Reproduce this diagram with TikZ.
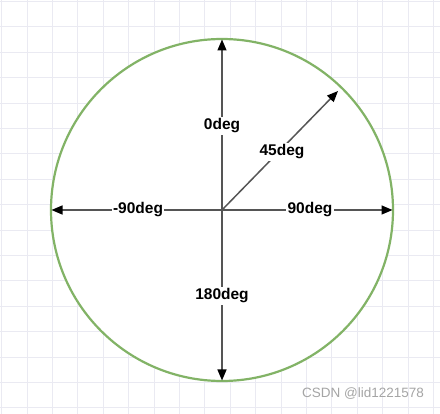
\documentclass[tikz,border=0pt]{standalone}
\usepackage{fontspec}
\setmainfont{Liberation Sans}
\usetikzlibrary{arrows.meta}
\definecolor{gridc}{RGB}{234,234,242}
\definecolor{circc}{RGB}{130,179,102}
\definecolor{linec}{RGB}{85,85,85}
\definecolor{wmc}{RGB}{165,165,165}
\tikzset{
  axis/.style={draw=linec, line width=1.5pt, -{Triangle[length=11pt,width=9pt,color=black]}},
  lbl/.style={fill=white, inner sep=1.5pt, font=\fontsize{15.5}{17}\selectfont\bfseries, text=black},
}
\begin{document}
\begin{tikzpicture}[x=1pt,y=-1pt]
\useasboundingbox (0,0) rectangle (440,414);
\fill[white] (0,0) rectangle (440,414);
% grid
\foreach \i in {0,...,17} {\draw[gridc, line width=0.8pt] (1.6+25.4*\i,0) -- (1.6+25.4*\i,414);}
\foreach \j in {0,...,16} {\draw[gridc, line width=0.8pt] (0,1.5+25.4*\j) -- (440,1.5+25.4*\j);}
% circle
\coordinate (c) at (222,210);
\node[circle, draw=circc, fill=white, line width=2.2pt, minimum size=342pt, inner sep=0pt] (circ) at (c) {};
% endpoints
\coordinate (top) at (222,39.5);
\coordinate (bot) at (222,380.5);
\coordinate (lft) at (51.5,210);
\coordinate (rgt) at (392.5,210);
\coordinate (ne) at (338,91);
\draw[axis] (c) -- (top);
\draw[axis] (c) -- (bot);
\draw[axis] (c) -- (lft);
\draw[axis] (c) -- (rgt);
\draw[axis] (c) -- (ne);
% labels
\node[lbl] (l0) at (222,126) {0deg};
\node[lbl] (l45) at (282,152) {45deg};
\node[lbl] (l90) at (310,210) {90deg};
\node[lbl] (lm90) at (138,210) {-90deg};
\node[lbl] (l180) at (222,296) {180deg};
% watermark
\node[text=wmc, font=\fontsize{13.5}{15}\selectfont, inner sep=0pt] (wm) at (363,394) {CSDN @lid1221578};
\end{tikzpicture}
\end{document}
